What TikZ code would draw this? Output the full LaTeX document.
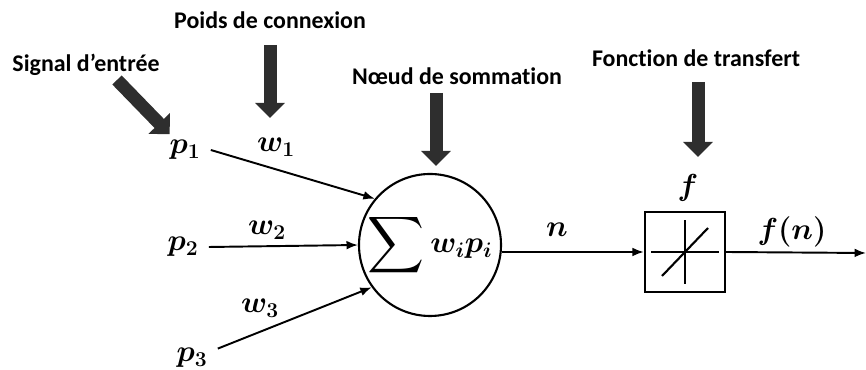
\documentclass[tikz,border=0pt]{standalone}
\usepackage{amsmath}
\usepackage{fontspec}
\setmainfont[Ligatures=NoCommon]{Carlito}
\usepackage{tikz}
\usetikzlibrary{
  arrows.meta,
  positioning,
  calc}
\tikzset{every picture/.style={font issue=\fontsize{17}{20}},
         font issue/.style={execute at begin picture={#1\selectfont\boldmath}},
         lbl/.style={font=\bfseries\fontsize{13.6}{16}\selectfont},
         conn/.style={line width=1.1pt, -{Latex[length=6.5pt,width=5pt]}},
         bigarrow/.style={draw=black!82, line width=0.26cm, -{Triangle[width=0.58cm,length=0.3cm]}}
        }

\begin{document}
\begin{tikzpicture}
\useasboundingbox (0,0) rectangle (17.32,7.40);
%Labels
\node[lbl] (sig) at (1.72,6.10) {Signal d’entrée};
\node[lbl] (poids) at (5.40,7.00) {Poids de connexion};
\node[lbl] (noeud) at (9.14,5.88) {Nœud de sommation};
\node[lbl] (fonc) at (13.92,6.24) {Fonction de transfert};

%Inputs and weights
\node (p1) at (3.70,4.40) {$p_1$};
\node (w1) at (5.52,4.46) {$w_1$};
\node (p2) at (3.66,2.46) {$p_2$};
\node (w2) at (5.34,2.80) {$w_2$};
\node (p3) at (3.84,0.24) {$p_3$};
\node (w3) at (5.20,1.24) {$w_3$};

%Summation and transfer
\node[circle, draw, line width=1.2pt, minimum size=2.84cm, inner sep=0pt] (sum) at (8.60,2.50)
  {$\vcenter{\hbox{\scalebox{1.3}{$\displaystyle\sum$}}}\, w_i p_i$};
\node[draw, line width=1.3pt, minimum size=1.6cm] (tf) at (13.70,2.36) {};
\node (n) at (11.14,2.80) {$n$};
\node (f) at (13.76,3.64) {$f$};
\node (fn) at (15.84,2.76) {$f(n)$};
\coordinate (out) at (17.32,2.34);

\draw[conn] (p1.east) -- (sum.140);
\draw[conn] (p2.east) -- (sum.west);
\draw[conn] (p3.20) -- (sum.216);
\draw[conn] (sum.east |- tf.west) -- (tf.west);
\draw[conn] (tf.east) -- (out);

\draw[line width=0.7pt] ([xshift=-0.68cm]tf.center) -- ([xshift=0.68cm]tf.center);
\draw[line width=0.7pt] ([yshift=-0.64cm]tf.center) -- ([yshift=0.64cm]tf.center);
\draw[line width=1.2pt] ($(tf.center)+(-0.46,-0.48)$) -- ($(tf.center)+(0.46,0.48)$);

%Big arrows
\coordinate (sigtail) at (2.34,5.80);
\coordinate (poidstail) at (5.40,6.50);
\coordinate (noeudtail) at (8.72,5.54);
\coordinate (fonctail) at (13.96,5.76);
\draw[bigarrow, shorten >=0.44cm] (sigtail) -- (p1.center);
\draw[bigarrow, shorten >=0.58cm] (poidstail) -- (poidstail |- w1.center);
\draw[bigarrow, shorten >=0.14cm] (noeudtail) -- (noeudtail |- sum.north);
\draw[bigarrow, shorten >=0.62cm] (fonctail) -- (fonctail |- f.center);
\end{tikzpicture}
\end{document}
